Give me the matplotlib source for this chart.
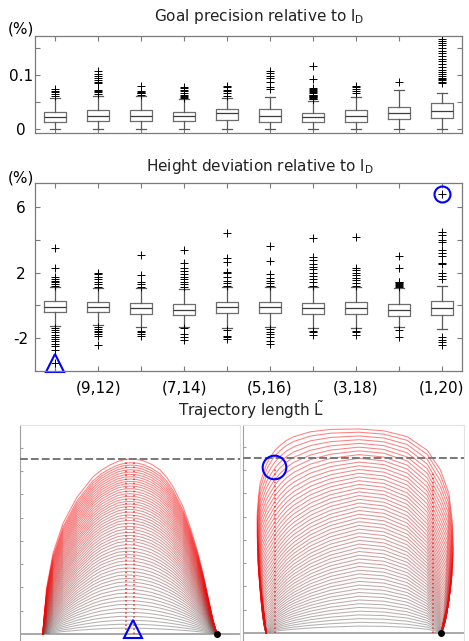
import numpy as np
import matplotlib
matplotlib.use("Agg")
import matplotlib.pyplot as plt

plt.rcParams['mathtext.fontset'] = 'dejavusans'
plt.rcParams['font.family'] = ['DejaVu Sans']

# ------------------------------------------------------------------ data
positions = [1, 2, 3, 4, 5, 6, 7, 8, 9, 10]
tick_labels = ['', '(9,12)', '', '(7,14)', '', '(5,16)', '', '(3,18)', '', '(1,20)']

# Goal precision relative to l_D (%)
gp_lo = [0.001, 0.001, 0.001, 0.001, 0.001, 0.001, 0.001, 0.001, 0.001, 0.001]
gp_q1 = [0.013, 0.015, 0.015, 0.015, 0.017, 0.014, 0.014, 0.014, 0.019, 0.020]
gp_med = [0.023, 0.025, 0.025, 0.024, 0.029, 0.024, 0.022, 0.024, 0.029, 0.034]
gp_q3 = [0.032, 0.035, 0.035, 0.032, 0.037, 0.037, 0.030, 0.035, 0.041, 0.048]
gp_hi = [0.057, 0.062, 0.061, 0.055, 0.058, 0.060, 0.052, 0.060, 0.072, 0.066]
gp_fliers = [
    [0.062, 0.065, 0.068, 0.071, 0.075],
    [0.065, 0.068, 0.071, 0.073, 0.085, 0.088, 0.091, 0.094, 0.098, 0.102, 0.108],
    [0.064, 0.066, 0.067, 0.068, 0.070, 0.080],
    [0.058, 0.060, 0.062, 0.064, 0.066, 0.070, 0.073, 0.076, 0.078],
    [0.062, 0.066, 0.070, 0.073, 0.077, 0.080],
    [0.074, 0.078, 0.088, 0.094, 0.099, 0.104, 0.108],
    [0.055, 0.056, 0.058, 0.059, 0.060, 0.061, 0.062, 0.063, 0.064, 0.066,
     0.068, 0.070, 0.072, 0.074, 0.076, 0.093, 0.117],
    [0.066, 0.070, 0.074, 0.077, 0.079],
    [0.088],
    [0.086, 0.088, 0.090, 0.092, 0.095, 0.098, 0.102, 0.106, 0.110, 0.115,
     0.120, 0.125, 0.130, 0.135, 0.140, 0.145, 0.150, 0.155, 0.160, 0.163, 0.166],
]

# Height deviation relative to l_D (%)
hd_lo = [-1.25, -1.20, -1.30, -1.30, -1.35, -1.30, -1.40, -1.40, -1.30, -1.45]
hd_q1 = [-0.40, -0.40, -0.54, -0.60, -0.48, -0.44, -0.52, -0.52, -0.64, -0.60]
hd_med = [-0.07, -0.07, -0.17, -0.27, -0.11, -0.11, -0.13, -0.13, -0.27, -0.13]
hd_q3 = [0.25, 0.20, 0.17, 0.09, 0.23, 0.23, 0.17, 0.20, 0.07, 0.29]
hd_hi = [1.10, 1.05, 1.05, 1.00, 1.15, 1.10, 1.10, 1.10, 1.05, 1.20]
hd_fliers = [
    [1.2, 1.3, 1.4, 1.5, 1.6, 1.75, 2.3, 3.5,
     -1.35, -1.5, -1.65, -1.8, -1.95, -2.05, -2.2, -2.35, -2.5, -2.7, -3.5],
    [1.15, 1.3, 1.45, 1.6, 1.75, 1.9, 2.0,
     -1.3, -1.45, -1.55, -1.65, -1.75, -1.85, -2.4],
    [1.15, 1.3, 1.45, 1.85, 3.1, -1.55, -1.65, -1.75, -1.85],
    [1.15, 1.3, 1.45, 1.6, 1.75, 1.9, 2.1, 2.3, 2.6, 3.4,
     -1.4, -1.75, -1.95, -2.1],
    [1.2, 1.35, 1.5, 1.75, 1.95, 2.05, 2.65, 2.9, 4.4,
     -1.5, -1.85, -1.95, -2.05],
    [1.2, 1.35, 1.5, 1.7, 1.9, 2.7, 3.6,
     -1.45, -1.6, -1.75, -1.95, -2.15, -2.35],
    [1.2, 1.4, 1.6, 1.8, 2.0, 2.2, 2.35, 2.55, 2.75, 2.95, 4.1,
     -1.55, -1.65, -1.8],
    [1.2, 1.35, 1.55, 1.7, 1.85, 2.0, 2.15, 2.3, 4.2, -1.55, -1.65, -1.8],
    [1.15, 1.2, 1.25, 1.3, 1.35, 1.4, 1.45, 2.3, 3.0, -1.5, -1.9],
    [1.6, 1.8, 2.0, 2.5, 2.6, 3.0, 3.2, 3.4, 3.9, 4.0, 4.3, 4.5, 6.8,
     -1.9, -2.1, -2.25, -2.4],
]
hd_circled = (10, 6.8)     # flier marked with a blue circle
hd_triangled = (1, -3.5)   # flier marked with a blue triangle

# Trajectories: outer (tallest) curve and the profile of the lowest curves,
# read off each panel, plus the apex height of every curve
left_env_x = [0.99, 1.01, 1.15, 1.42, 1.85, 2.45, 3.13, 3.50, 3.86, 4.20, 4.51,
              4.72, 5.00, 5.28, 5.65, 6.01, 6.30, 6.57, 7.00, 7.30, 7.60, 7.85,
              8.07, 8.28, 8.45]
left_env_y = [0.00, 0.47, 2.03, 3.48, 4.76, 5.88, 6.74, 7.04, 7.25, 7.41, 7.49,
              7.51, 7.50, 7.44, 7.28, 7.04, 6.72, 6.31, 5.45, 4.59, 3.61, 2.62,
              1.59, 0.60, 0.00]
left_low = [0.00, 0.02, 0.10, 0.24, 0.42, 0.63, 0.82, 0.90, 0.95, 0.99, 1.00,
            1.00, 0.99, 0.97, 0.93, 0.87, 0.81, 0.75, 0.63, 0.53, 0.42, 0.32,
            0.22, 0.10, 0.00]
left_heights = [0.25, 0.42, 0.59, 0.76, 0.93, 1.10, 1.27, 1.43, 1.59, 1.75,
                1.91, 2.07, 2.23, 2.38, 2.53, 2.68, 2.83, 2.98, 3.13, 3.27,
                3.41, 3.55, 3.69, 3.83, 3.97, 4.10, 4.23, 4.36, 4.49, 4.62,
                4.75, 4.87, 4.99, 5.11, 5.23, 5.35, 5.47, 5.58, 5.69, 5.80,
                5.91, 6.02, 6.13, 6.24, 6.35, 6.45, 6.55, 6.65, 6.75, 6.85,
                6.95, 7.05, 7.15, 7.25, 7.35, 7.51]
left_peaks_x = [4.55, 4.89]
left_peaks_top = [7.5, 7.5]

right_env_x = [0.96, 0.86, 0.72, 0.60, 0.57, 0.57, 0.64, 0.70, 0.83, 0.97, 1.14,
               1.34, 1.57, 1.83, 2.15, 2.86, 3.72, 4.94, 6.01, 7.01, 7.87, 8.44,
               8.80, 8.94, 8.99, 8.94, 8.80, 8.58, 8.47]
right_env_y = [0.00, 0.85, 1.99, 3.13, 4.28, 5.14, 6.00, 6.45, 6.85, 7.25, 7.57,
               7.85, 8.07, 8.27, 8.43, 8.64, 8.74, 8.76, 8.68, 8.43, 7.85, 7.00,
               6.00, 4.85, 3.70, 2.56, 1.42, 0.56, 0.00]
right_low = [0.00, 0.01, 0.02, 0.03, 0.04, 0.05, 0.06, 0.07, 0.08, 0.10, 0.15,
             0.25, 0.35, 0.45, 0.55, 0.72, 0.87, 1.00, 0.96, 0.82, 0.55, 0.10,
             0.08, 0.07, 0.06, 0.05, 0.03, 0.02, 0.00]
right_heights = [0.30, 0.46, 0.62, 0.78, 0.94, 1.10, 1.26, 1.42, 1.58, 1.74,
                 1.90, 2.06, 2.22, 2.38, 2.54, 2.70, 2.86, 3.02, 3.18, 3.34,
                 3.50, 3.66, 3.82, 3.98, 4.14, 4.30, 4.46, 4.62, 4.78, 4.94,
                 5.10, 5.26, 5.42, 5.58, 5.74, 5.90, 6.06, 6.22, 6.38, 6.54,
                 6.70, 6.86, 7.02, 7.18, 7.34, 7.50, 7.66, 7.82, 7.98, 8.14,
                 8.30, 8.46, 8.62, 8.76]
right_peaks_x = [1.33, 8.11]
right_peaks_top = [7.12, 6.90]
goal_height = 7.5
left_mark = (4.87, 0.21)    # blue triangle
right_mark = (1.29, 7.12)   # blue circle

# ------------------------------------------------------------------ helpers
W, H = 469, 641


def fig_rect(x0, y0, x1, y1):
    # pixel box -> figure fraction rect
    return [x0 / W, 1 - y1 / H, (x1 - x0) / W, (y1 - y0) / H]


def make_stats(lo, q1, med, q3, hi, fliers):
    return [dict(whislo=a, q1=b, med=c, q3=d, whishi=e, fliers=f)
            for a, b, c, d, e, f in zip(lo, q1, med, q3, hi, fliers)]


def style_box_axes(ax):
    for sp in ax.spines.values():
        sp.set_color('#7a7a7a')
        sp.set_linewidth(0.9)
    ax.tick_params(direction='in', length=3.5, width=0.8, color='#7a7a7a',
                   top=True, right=True, labelsize=11, pad=10)
    for lab in ax.get_yticklabels():
        lab.set_horizontalalignment('center')


def draw_box(ax, stats):
    ax.bxp(stats, positions=positions, widths=0.5, capwidths=0.22,
           boxprops=dict(color='#6e6e6e', lw=0.9),
           medianprops=dict(color='#3c3c3c', lw=0.9),
           whiskerprops=dict(color='#5a5a5a', lw=0.9),
           capprops=dict(color='#5a5a5a', lw=0.9),
           flierprops=dict(marker='+', markeredgecolor='black',
                           markersize=6, markeredgewidth=0.7))
    ax.set_xlim(0.53, 10.47)


def draw_family(ax, env_x, env_y, low, heights, power):
    # each curve blends the low profile into the outer curve as it grows
    env_x = np.array(env_x)
    env_y = np.array(env_y)
    low = np.array(low)
    top = env_y.max()
    inner = np.clip(env_x, env_x[0], env_x[-1])
    n = len(heights)
    for i, h in enumerate(heights):
        s = h / top
        w = s ** power
        f = i / (n - 1)
        col = (0.40 + 0.60 * f, 0.40 * (1 - f), 0.40 * (1 - f))
        xs = inner + w * (env_x - inner)
        ys = h * (w * env_y / top + (1 - w) * low)
        ax.plot(xs, ys, color=col, lw=0.75, alpha=0.5, solid_capstyle='round')
    ax.plot([env_x[-1]], [0], 'o', color='black', markersize=4, zorder=5)


def style_traj_axes(ax, xlim, ylim):
    ax.set_xlim(*xlim)
    ax.set_ylim(*ylim)
    ax.spines['bottom'].set_visible(False)
    ax.spines['left'].set_color('#a0a0a0')
    ax.spines['top'].set_color('#e2e2e2')
    ax.spines['right'].set_color('#e2e2e2')
    ax.set_xticks([])
    ax.set_yticks([1, 2, 3, 4, 5, 6, 7, 8])
    ax.tick_params(axis='y', direction='in', length=2.5, color='#a0a0a0',
                   labelleft=False)
    ax.axhline(0, color='#9a9a9a', lw=1.2, zorder=1)
    ax.axhline(goal_height, color='#777777', lw=1.4,
               linestyle=(0, (4, 1.6)), zorder=4)


# ------------------------------------------------------------------ figure
fig = plt.figure(figsize=(W / 100, H / 100), dpi=100)

# goal precision
ax1 = fig.add_axes(fig_rect(35, 36, 462, 133))
draw_box(ax1, make_stats(gp_lo, gp_q1, gp_med, gp_q3, gp_hi, gp_fliers))
ax1.set_ylim(-0.007, 0.172)
ax1.set_yticks([0, 0.05, 0.1, 0.15])
ax1.set_yticklabels(['0', '', '0.1', ''])
ax1.set_xticks(positions)
ax1.set_xticklabels([])
style_box_axes(ax1)
fig.text(259 / W, 1 - 17 / H, r'Goal precision relative to $\mathregular{l_D}$',
         ha='center', va='center', fontsize=11, color='#222222')
fig.text(21 / W, 1 - 29 / H, '(%)', ha='center', va='center', fontsize=11)

# height deviation
ax2 = fig.add_axes(fig_rect(35, 183, 462, 371))
draw_box(ax2, make_stats(hd_lo, hd_q1, hd_med, hd_q3, hd_hi, hd_fliers))
ax2.set_ylim(-4.0, 7.47)
ax2.set_yticks([-2, 0, 2, 4, 6])
ax2.set_yticklabels(['-2', '', '2', '', '6'])
ax2.set_xticks(positions)
ax2.set_xticklabels(tick_labels)
style_box_axes(ax2)
ax2.tick_params(axis='x', pad=7)
ax2.plot(*hd_circled, 'o', markersize=11.5, markerfacecolor='none',
         markeredgecolor='#0000ff', markeredgewidth=1.5)
ax2.plot(*hd_triangled, '^', markersize=13, markerfacecolor='none',
         markeredgecolor='#0000ff', markeredgewidth=1.5, clip_on=False)
fig.text(260 / W, 1 - 167 / H, r'Height deviation relative to $\mathregular{l_D}$',
         ha='center', va='center', fontsize=11, color='#222222')
fig.text(21 / W, 1 - 178 / H, '(%)', ha='center', va='center', fontsize=11)
fig.text(251 / W, 1 - 410 / H, r'Trajectory length $\mathregular{\tilde{L}}$',
         ha='center', va='center', fontsize=11, color='#222222')

# trajectories, left
ax3 = fig.add_axes(fig_rect(20, 425, 240, 641))
draw_family(ax3, left_env_x, left_env_y, left_low, left_heights, 1.6)
for px, pt in zip(left_peaks_x, left_peaks_top):
    ax3.plot([px, px], [0, pt], color='red', lw=1.1, linestyle=':', alpha=0.8)
ax3.plot(*left_mark, '^', markersize=13, markerfacecolor='none',
         markeredgecolor='#0000ff', markeredgewidth=1.5, zorder=6)
style_traj_axes(ax3, (0, 9.44), (-0.30, 8.97))

# trajectories, right
ax4 = fig.add_axes(fig_rect(243, 425, 464, 641))
draw_family(ax4, right_env_x, right_env_y, right_low, right_heights, 1.2)
for px, pt in zip(right_peaks_x, right_peaks_top):
    ax4.plot([px, px], [0, pt], color='red', lw=1.1, linestyle=':', alpha=0.8)
ax4.plot(*right_mark, 'o', markersize=17, markerfacecolor='none',
         markeredgecolor='#0000ff', markeredgewidth=1.5, zorder=6)
style_traj_axes(ax4, (-0.04, 9.45), (-0.34, 8.93))

fig.savefig('out.png', dpi=100)
